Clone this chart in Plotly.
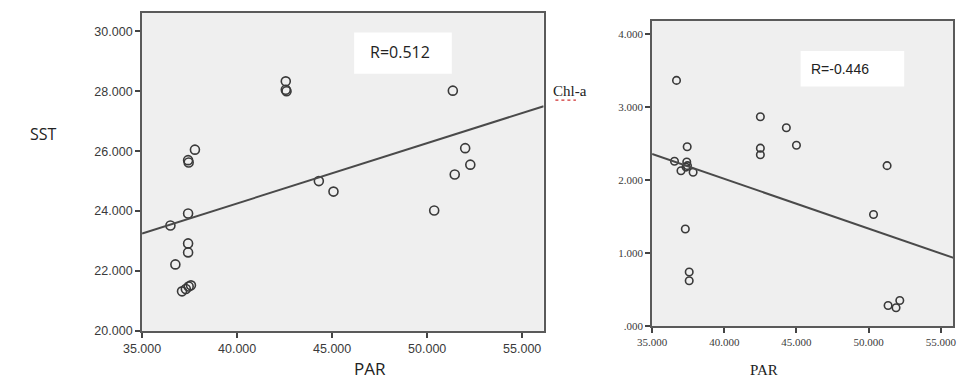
import plotly.graph_objects as go

W, H = 958, 386

# ---- data: left panel (PAR vs SST) ----
par_sst = [42.56, 42.56, 42.6, 37.78, 37.42, 37.45, 44.3, 45.07, 51.35, 52.0, 52.27, 51.45, 50.37,
           36.49, 37.42, 37.42, 37.42, 36.75, 37.1, 37.3, 37.57, 37.45]
sst = [28.33, 28.05, 28.0, 26.05, 25.7, 25.62, 25.0, 24.65, 28.02, 26.1, 25.55, 25.22, 24.02,
       23.52, 23.92, 22.92, 22.62, 22.22, 21.32, 21.4, 21.52, 21.48]
fit1_x = [35.0, 56.13]
fit1_y = [23.25, 27.5]
x1_ticks = [35, 40, 45, 50, 55]
x1_text = ["35.000", "40.000", "45.000", "50.000", "55.000"]
y1_ticks = [20, 22, 24, 26, 28, 30]
y1_text = ["20.000", "22.000", "24.000", "26.000", "28.000", "30.000"]

# ---- data: right panel (PAR vs Chl-a) ----
par_chl = [36.69, 37.43, 36.55, 37.4, 37.45, 37.35, 37.0, 37.84, 37.3, 37.57, 37.57,
           42.5, 42.5, 42.5, 44.3, 45.0, 51.28, 50.34, 51.35, 51.9, 52.16]
chl = [3.37, 2.46, 2.26, 2.25, 2.2, 2.18, 2.13, 2.11, 1.33, 0.74, 0.62,
       2.87, 2.44, 2.35, 2.72, 2.48, 2.2, 1.53, 0.28, 0.25, 0.35]
fit2_x = [35.0, 55.95]
fit2_y = [2.36, 0.93]
x2_ticks = [35, 40, 45, 50, 55]
x2_text = ["35.000", "40.000", "45.000", "50.000", "55.000"]
y2_ticks = [0, 1, 2, 3, 4]
y2_text = [".000", "1.000", "2.000", "3.000", "4.000"]

r1_text = "R=0.512"
r2_text = "R=-0.446"


def px(x):
    return x / W


def py(y):
    return 1 - y / H


fig = go.Figure()
mk = dict(symbol="circle-open", color="#3a3a3a", line=dict(width=1.6))
fig.add_trace(go.Scatter(x=par_sst, y=sst, mode="markers", marker=dict(size=9, **mk),
                         xaxis="x", yaxis="y", showlegend=False))
fig.add_trace(go.Scatter(x=fit1_x, y=fit1_y, mode="lines", line=dict(color="#4a4a4a", width=2),
                         xaxis="x", yaxis="y", showlegend=False))
fig.add_trace(go.Scatter(x=par_chl, y=chl, mode="markers", marker=dict(size=7.5, **mk),
                         xaxis="x2", yaxis="y2", showlegend=False))
fig.add_trace(go.Scatter(x=fit2_x, y=fit2_y, mode="lines", line=dict(color="#4a4a4a", width=2),
                         xaxis="x2", yaxis="y2", showlegend=False))

sans = "Liberation Sans"
serif = "Liberation Serif"
axcommon = dict(showgrid=False, zeroline=False, showline=True, mirror=True, linecolor="#5a5a5a",
                linewidth=2, ticks="outside", ticklen=5, tickcolor="#444", tickwidth=1.5,
                ticklabeloverflow="allow")

fig.update_layout(
    width=W, height=H, margin=dict(l=0, r=0, t=0, b=0),
    paper_bgcolor="white", plot_bgcolor="#efefef",
    xaxis=dict(domain=[px(126), px(537)], range=[35, 56.13], anchor="y",
               tickvals=x1_ticks, ticktext=x1_text,
               tickfont=dict(family=sans, size=12.5, color="#3a3a3a"), **axcommon),
    yaxis=dict(domain=[py(337), py(13)], range=[20, 30.62], anchor="x",
               tickvals=y1_ticks, ticktext=y1_text,
               tickfont=dict(family=sans, size=12.5, color="#3a3a3a"), **axcommon),
    xaxis2=dict(domain=[px(648), px(956)], range=[35, 55.85], anchor="y2",
                tickvals=x2_ticks, ticktext=x2_text,
                tickfont=dict(family=serif, size=11, color="#3a3a3a"), **axcommon),
    yaxis2=dict(domain=[py(332), py(21)], range=[0, 4.19], anchor="x2",
                tickvals=y2_ticks, ticktext=y2_text,
                tickfont=dict(family=serif, size=11, color="#3a3a3a"), **axcommon),
)

shapes = [
    dict(type="rect", xref="paper", yref="paper", x0=px(343), x1=px(443), y0=py(75), y1=py(33),
         fillcolor="white", line=dict(width=0), layer="below"),
    dict(type="rect", xref="paper", yref="paper", x0=px(800), x1=px(906), y0=py(88), y1=py(52),
         fillcolor="white", line=dict(width=0), layer="below"),
    dict(type="line", xref="paper", yref="paper", x0=px(549), x1=px(570), y0=py(102), y1=py(102),
         line=dict(color="#d03030", width=1.2, dash="dot")),
]
fig.update_layout(shapes=shapes)

ann = [
    dict(text=r1_text, x=px(390), y=py(53), font=dict(family="Open Sans", size=16, color="#222")),
    dict(text=r2_text, x=px(840), y=py(70), font=dict(family=sans, size=14, color="#222")),
    dict(text="SST", x=px(25), y=py(136), font=dict(family="Open Sans", size=16, color="#222")),
    dict(text="PAR", x=px(359), y=py(375), font=dict(family="Open Sans", size=17, color="#222")),
    dict(text="PAR", x=px(762), y=py(377), font=dict(family=serif, size=15, color="#222")),
    dict(text="Chl-a", x=px(564), y=py(93), font=dict(family=serif, size=15, color="#222")),
]
fig.update_layout(annotations=[dict(xref="paper", yref="paper", showarrow=False,
                                    xanchor="center", yanchor="middle", **a) for a in ann])

fig.write_html("out.html")
